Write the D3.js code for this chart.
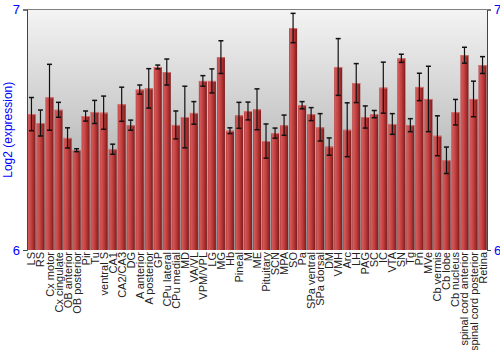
<!DOCTYPE html>
<html>
<head>
<meta charset="utf-8">
<script src="https://cdn.jsdelivr.net/npm/d3@7"></script>
<style>
body { margin: 0; background: #fff; }
text { font-family: "Liberation Sans", Arial, sans-serif; }
</style>
</head>
<body>
<div id="chart"></div>
<script>
// tissues, mean log2 expression and error (half-length)
var tissues = ["LS", "RS", "Cx motor", "Cx cingulate", "OB anterior", "OB posterior", "Pir", "Tu",
  "ventral S", "CA1", "CA2/CA3", "DG", "A anterior", "A posterior", "GP", "CPu lateral", "CPu medial",
  "MD", "VA/VL", "VPM/VPL", "LG", "MG", "Hb", "Pineal", "M", "ME", "Pituitary", "SCN", "MPA", "SO",
  "Pa", "SPa ventral", "SPa dorsal", "DM", "VMH", "Arc", "LH", "PAG", "SC", "IC", "VTA", "SN", "Tg",
  "Pn", "MVe", "Cb vermis", "Cb lobe", "Cb nucleus", "spinal cord anterior", "spinal cord posterior", "Retina"];

var values = [6.565, 6.528, 6.635, 6.583, 6.466, 6.415, 6.557, 6.574,
  6.571, 6.419, 6.606, 6.519, 6.667, 6.672, 6.761, 6.740, 6.520,
  6.553, 6.570, 6.703, 6.703, 6.802, 6.496, 6.560, 6.578, 6.585, 6.453, 6.486, 6.519, 6.923,
  6.602, 6.565, 6.510, 6.430, 6.761, 6.500, 6.694, 6.553, 6.565, 6.675, 6.524, 6.797, 6.519,
  6.678, 6.628, 6.475, 6.373, 6.573, 6.810, 6.628, 6.769];

var errors = [0.069, 0.054, 0.137, 0.031, 0.042, 0.006, 0.021, 0.048,
  0.069, 0.021, 0.071, 0.021, 0.019, 0.082, 0.008, 0.054, 0.058,
  0.128, 0.047, 0.022, 0.050, 0.068, 0.012, 0.054, 0.037, 0.085, 0.071, 0.021, 0.042, 0.061,
  0.015, 0.027, 0.057, 0.036, 0.118, 0.112, 0.081, 0.046, 0.015, 0.106, 0.043, 0.017, 0.027,
  0.057, 0.136, 0.083, 0.055, 0.053, 0.033, 0.074, 0.035];

var yTicks = [6, 7];

var margin = {top: 9.5, right: 13, bottom: 100, left: 27},
  width = 500 - margin.left - margin.right,
  height = 350 - margin.top - margin.bottom;

var svg = d3.select("#chart")
  .append("svg")
  .attr("width", 500)
  .attr("height", 350)
  .append("g")
  .attr("transform", "translate(" + margin.left + "," + margin.top + ")");

var defs = svg.append("defs");

var bg = defs.append("linearGradient")
  .attr("id", "bg").attr("x1", 0).attr("y1", 0).attr("x2", 0).attr("y2", 1);
bg.append("stop").attr("offset", "0%").attr("stop-color", "#f4f4f4");
bg.append("stop").attr("offset", "60%").attr("stop-color", "#bcbcbc");
bg.append("stop").attr("offset", "100%").attr("stop-color", "#959595");

var barGrad = defs.append("linearGradient")
  .attr("id", "bar").attr("x1", 0).attr("y1", 0).attr("x2", 1).attr("y2", 0);
barGrad.append("stop").attr("offset", "0%").attr("stop-color", "#b83838");
barGrad.append("stop").attr("offset", "15%").attr("stop-color", "#d05a5a");
barGrad.append("stop").attr("offset", "55%").attr("stop-color", "#c03a3a");
barGrad.append("stop").attr("offset", "100%").attr("stop-color", "#7a1c1c");

var x = d3.scaleBand()
  .domain(tissues)
  .range([0, width])
  .paddingInner(0.11)
  .paddingOuter(0.05);

var y = d3.scaleLinear()
  .domain([6, 7])
  .range([height, 0]);

// background
svg.append("rect")
  .attr("width", width)
  .attr("height", height)
  .attr("fill", "url(#bg)");

svg.append("line")
  .attr("x1", 0).attr("x2", width).attr("y1", 0).attr("y2", 0)
  .attr("stroke", "#808080");

var data = tissues.map(function(t, i) { return {name: t, v: values[i], e: errors[i]}; });

// bars
svg.selectAll("rect.bar")
  .data(data)
  .enter()
  .append("rect")
  .attr("class", "bar")
  .attr("x", function(d) { return x(d.name); })
  .attr("y", function(d) { return y(d.v); })
  .attr("width", x.bandwidth())
  .attr("height", function(d) { return height - y(d.v); })
  .attr("fill", "url(#bar)");

svg.selectAll("line.top")
  .data(data)
  .enter()
  .append("line")
  .attr("x1", function(d) { return x(d.name); })
  .attr("x2", function(d) { return x(d.name) + x.bandwidth(); })
  .attr("y1", function(d) { return y(d.v) + 0.5; })
  .attr("y2", function(d) { return y(d.v) + 0.5; })
  .attr("stroke", "#d87070")
  .attr("stroke-width", 1);

// error bars
var eb = svg.selectAll("g.err")
  .data(data)
  .enter()
  .append("g")
  .attr("class", "err")
  .attr("transform", function(d) { return "translate(" + (x(d.name) + x.bandwidth() / 2) + ",0)"; });

eb.append("line")
  .attr("y1", function(d) { return y(d.v + d.e); })
  .attr("y2", function(d) { return y(d.v - d.e); })
  .attr("stroke", "#111")
  .attr("stroke-width", 1.2);

eb.append("line")
  .attr("x1", -2.5).attr("x2", 2.5)
  .attr("y1", function(d) { return y(d.v + d.e); })
  .attr("y2", function(d) { return y(d.v + d.e); })
  .attr("stroke", "#111")
  .attr("stroke-width", 1.5);

eb.append("line")
  .attr("x1", -2.5).attr("x2", 2.5)
  .attr("y1", function(d) { return y(d.v - d.e); })
  .attr("y2", function(d) { return y(d.v - d.e); })
  .attr("stroke", "#111")
  .attr("stroke-width", 1.5);

// axes
var yAxisL = svg.append("g")
  .call(d3.axisLeft(y).tickValues(yTicks).tickFormat(d3.format("d")).tickSize(4));
var yAxisR = svg.append("g")
  .attr("transform", "translate(" + width + ",0)")
  .call(d3.axisRight(y).tickValues(yTicks).tickFormat(d3.format("d")).tickSize(4));

[yAxisL, yAxisR].forEach(function(a) {
  a.select(".domain").attr("stroke", "#444");
  a.selectAll(".tick line").attr("stroke", "#444");
  a.selectAll("text")
    .attr("fill", "blue")
    .style("font-size", "13px")
    .style("font-family", "Liberation Sans, Arial, sans-serif");
});

// x labels
svg.selectAll("text.xlab")
  .data(tissues)
  .enter()
  .append("text")
  .attr("class", "xlab")
  .attr("transform", function(d) {
    return "translate(" + (x(d) + x.bandwidth() / 2 + 4) + "," + (height + 2) + ") rotate(-90)";
  })
  .attr("text-anchor", "end")
  .style("font-size", "11px")
  .attr("fill", "#222")
  .text(function(d) { return d; });

// y title
svg.append("text")
  .attr("transform", "rotate(-90)")
  .attr("x", -height / 2)
  .attr("y", -margin.left + 12)
  .attr("text-anchor", "middle")
  .attr("fill", "blue")
  .style("font-size", "12px")
  .text("Log2 (expression)");
</script>
</body>
</html>
